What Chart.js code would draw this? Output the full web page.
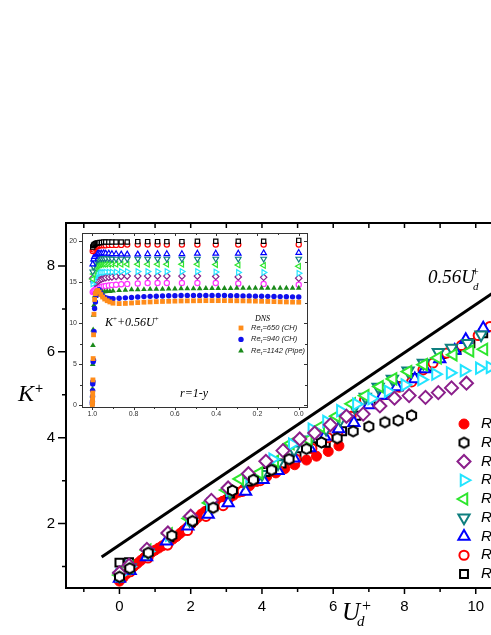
<!DOCTYPE html>
<html>
<head>
<meta charset="utf-8">
<script src="https://cdn.jsdelivr.net/npm/chart.js@4.4.1/dist/chart.umd.min.js"></script>
<style>
html, body { margin: 0; padding: 0; background: #fff; overflow: hidden; }
#wrap { position: relative; width: 491px; height: 635px; overflow: hidden; background: #fff; }
#main, #inset { position: absolute; left: 0; top: 0; }
</style>
</head>
<body>
<div id="wrap">
  <canvas id="main" width="560" height="635"></canvas>
  <canvas id="inset" width="491" height="635"></canvas>
</div>
<script>
// ---- main plot data (U_d+ , K+) ----
const redDotU = [0, 0.1, 0.2, 0.3, 0.4, 0.5, 0.6, 0.7, 0.8, 0.9, 1.0, 1.1, 1.2, 1.3, 1.4, 1.5, 1.6, 1.7, 1.8, 1.9, 2.0, 2.1, 2.2, 2.3, 2.4, 2.5, 2.6, 2.7, 2.8, 2.9, 3.0, 3.1, 3.2, 3.35, 3.5, 3.65, 3.85, 4.13, 4.39, 4.64, 4.92, 5.25, 5.53, 5.86, 6.16];
const redDotK = [0.66, 0.74, 0.83, 0.92, 1.0, 1.07, 1.14, 1.21, 1.28, 1.33, 1.38, 1.43, 1.48, 1.53, 1.58, 1.64, 1.7, 1.77, 1.84, 1.91, 1.98, 2.06, 2.14, 2.22, 2.28, 2.33, 2.38, 2.43, 2.48, 2.52, 2.56, 2.61, 2.66, 2.73, 2.81, 2.88, 2.98, 3.09, 3.18, 3.28, 3.37, 3.48, 3.57, 3.68, 3.81];
const hexU = [0, 0.29, 0.81, 1.47, 2.05, 2.63, 3.17, 3.76, 4.27, 4.76, 5.25, 5.67, 6.11, 6.56, 7.0, 7.45, 7.82, 8.2];
const hexK = [0.76, 0.96, 1.32, 1.72, 2.06, 2.37, 2.77, 3.02, 3.25, 3.5, 3.74, 3.89, 3.99, 4.15, 4.26, 4.36, 4.4, 4.52];
const diaU = [0, 0.27, 0.77, 1.36, 2.0, 2.58, 3.05, 3.62, 4.11, 4.59, 5.06, 5.48, 5.92, 6.37, 6.84, 7.31, 7.72, 8.13, 8.59, 8.95, 9.32, 9.74];
const diaK = [0.85, 1.03, 1.4, 1.78, 2.17, 2.54, 2.83, 3.16, 3.45, 3.7, 3.97, 4.11, 4.3, 4.5, 4.55, 4.74, 4.92, 4.98, 4.94, 5.05, 5.16, 5.27];
const rightU = [0, 0.28, 0.8, 1.4, 2.0, 2.55, 3.1, 3.65, 4.3, 4.85, 5.4, 5.81, 6.2, 6.65, 7.08, 7.54, 8.01, 8.48, 8.87, 9.28, 9.67, 10.1, 10.4];
const rightK = [0.8, 1.0, 1.35, 1.73, 2.1, 2.45, 2.78, 3.1, 3.5, 3.85, 4.2, 4.38, 4.63, 4.78, 4.91, 5.08, 5.23, 5.35, 5.48, 5.51, 5.56, 5.62, 5.64];
const leftU = [0, 0.28, 0.78, 1.38, 1.95, 2.52, 3.0, 3.38, 3.92, 4.36, 4.8, 5.3, 5.65, 6.09, 6.52, 6.9, 7.3, 7.68, 8.1, 8.54, 8.93, 9.37, 9.84, 10.23];
const leftK = [0.8, 1.0, 1.38, 1.76, 2.12, 2.48, 2.78, 3.04, 3.18, 3.45, 3.86, 3.95, 4.26, 4.5, 4.79, 4.98, 5.19, 5.37, 5.54, 5.7, 5.86, 5.93, 6.02, 6.06];
const downU = [0, 0.3, 0.8, 1.4, 1.97, 2.55, 3.1, 3.5, 4.0, 4.45, 4.9, 5.35, 5.8, 6.2, 6.6, 6.9, 7.26, 7.66, 8.1, 8.53, 8.95, 9.32, 9.77, 10.15];
const downK = [0.78, 0.98, 1.33, 1.72, 2.08, 2.42, 2.72, 2.98, 3.15, 3.4, 3.72, 3.95, 4.2, 4.42, 4.72, 4.95, 5.18, 5.37, 5.56, 5.74, 5.99, 6.09, 6.2, 6.4];
const upU = [0, 0.3, 0.76, 1.32, 1.92, 2.49, 3.05, 3.54, 4.03, 4.45, 4.9, 5.34, 5.76, 6.15, 6.58, 7.0, 7.38, 7.78, 8.29, 8.57, 8.99, 9.41, 9.72, 10.21];
const upK = [0.72, 0.9, 1.22, 1.59, 1.94, 2.21, 2.48, 2.75, 3.02, 3.23, 3.52, 3.76, 4.03, 4.2, 4.35, 4.76, 4.98, 5.18, 5.37, 5.6, 5.83, 6.03, 6.28, 6.55];
const ringU = [0, 0.3, 0.8, 1.35, 1.91, 2.43, 2.91, 3.45, 3.95, 4.45, 4.95, 5.4, 5.85, 6.14, 6.5, 6.88, 7.4, 7.85, 8.2, 8.52, 8.8, 9.18, 9.6, 10.07, 10.4];
const ringK = [0.7, 0.88, 1.2, 1.5, 1.84, 2.17, 2.42, 2.75, 3.0, 3.25, 3.5, 3.75, 4.0, 4.15, 4.5, 4.88, 5.0, 5.18, 5.3, 5.58, 5.74, 5.97, 6.15, 6.38, 6.59];
const boxU = [0, 0.27, 0.8, 1.4, 2.0, 2.55, 3.1, 3.6, 4.1, 4.55, 4.97, 5.39, 5.79, 6.25, 6.65, 7.05, 7.45, 7.85, 8.24, 8.65, 9.04, 9.46, 9.85, 10.21];
const boxK = [1.09, 1.1, 1.3, 1.68, 2.03, 2.38, 2.7, 2.98, 3.2, 3.4, 3.57, 3.8, 3.88, 4.15, 4.51, 4.8, 5.0, 5.2, 5.39, 5.65, 5.95, 6.05, 6.2, 6.43];
const lineU = [-0.5, 12];
const lineK = [1.22, 8.22];

const xMajor = [0, 2, 4, 6, 8, 10];
const xMinor = [-1, 1, 3, 5, 7, 9, 11];
const yMajor = [2, 4, 6, 8];
const yMinor = [1, 3, 5, 7];
const legendLabels = ['Re', 'Re', 'Re', 'Re', 'Re', 'Re', 'Re', 'Re', 'Re'];

// ---- inset data (r = 1-y , K+ + 0.56U+) ----
const insetR = [0.998, 0.994, 0.99, 0.985, 0.98, 0.975, 0.97, 0.963, 0.955, 0.945, 0.935, 0.92, 0.905, 0.885, 0.86, 0.831, 0.78, 0.732, 0.684, 0.639, 0.566, 0.491, 0.402, 0.293, 0.17, 0.0];
const inBox = [19.3, 19.5, 19.6, 19.7, 19.75, 19.8, 19.8, 19.85, 19.85, 19.9, 19.9, 19.9, 19.9, 19.9, 19.9, 19.9, 19.95, 19.95, 19.95, 19.95, 19.95, 20.0, 20.0, 20.0, 20.0, 20.1];
const inRing = [18.8, 19.0, 19.2, 19.3, 19.4, 19.4, 19.45, 19.5, 19.5, 19.5, 19.5, 19.55, 19.55, 19.55, 19.55, 19.6, 19.6, 19.6, 19.6, 19.6, 19.6, 19.6, 19.6, 19.6, 19.6, 19.6];
const inUp = [17.2, 17.8, 18.1, 18.3, 18.4, 18.5, 18.5, 18.5, 18.5, 18.55, 18.5, 18.5, 18.45, 18.45, 18.4, 18.4, 18.4, 18.45, 18.45, 18.45, 18.45, 18.5, 18.5, 18.5, 18.55, 18.6];
const inDown = [16.3, 16.9, 17.3, 17.5, 17.7, 17.8, 17.85, 17.9, 17.9, 17.9, 17.9, 17.9, 17.85, 17.85, 17.85, 17.85, 17.85, 17.85, 17.85, 17.85, 17.85, 17.85, 17.85, 17.85, 17.85, 17.85];
const inLeft = [15.4, 16.0, 16.4, 16.7, 16.9, 17.0, 17.1, 17.15, 17.2, 17.2, 17.2, 17.2, 17.2, 17.2, 17.2, 17.2, 17.2, 17.2, 17.2, 17.2, 17.2, 17.2, 17.15, 17.1, 17.05, 16.95];
const inRight = [14.8, 15.2, 15.5, 15.7, 15.9, 16.0, 16.1, 16.15, 16.2, 16.2, 16.25, 16.25, 16.25, 16.25, 16.3, 16.3, 16.3, 16.3, 16.3, 16.3, 16.3, 16.3, 16.25, 16.2, 16.2, 16.1];
const inDia = [15.5, 15.1, 14.9, 14.9, 15.0, 15.1, 15.2, 15.3, 15.4, 15.5, 15.55, 15.6, 15.65, 15.7, 15.7, 15.75, 15.75, 15.75, 15.75, 15.75, 15.75, 15.75, 15.7, 15.65, 15.6, 15.5];
const inMag = [13.8, 13.9, 14.0, 14.1, 14.2, 14.3, 14.35, 14.4, 14.45, 14.5, 14.55, 14.6, 14.65, 14.7, 14.75, 14.8, 14.85, 14.9, 14.9, 14.9, 14.9, 14.9, 14.9, 14.85, 14.8, 14.7];

const dnsR = [1.0, 0.9995, 0.999, 0.9985, 0.998, 0.997, 0.996, 0.994, 0.992, 0.989, 0.985, 0.98, 0.974, 0.967, 0.959, 0.95, 0.94, 0.928, 0.915, 0.9, 0.87, 0.84, 0.81, 0.78, 0.75, 0.72, 0.69, 0.66, 0.63, 0.6, 0.57, 0.54, 0.51, 0.48, 0.45, 0.42, 0.39, 0.36, 0.33, 0.3, 0.27, 0.24, 0.21, 0.18, 0.15, 0.12, 0.09, 0.06, 0.03, 0.0];
const dns650 = [0.1, 0.3, 0.6, 1.0, 1.5, 3.1, 5.7, 8.6, 11.1, 12.9, 13.6, 13.85, 14.0, 13.8, 13.5, 13.2, 12.95, 12.75, 12.6, 12.45, 12.4, 12.42, 12.47, 12.52, 12.57, 12.6, 12.63, 12.66, 12.68, 12.7, 12.72, 12.73, 12.74, 12.75, 12.76, 12.76, 12.76, 12.76, 12.75, 12.74, 12.73, 12.72, 12.7, 12.68, 12.66, 12.64, 12.62, 12.6, 12.58, 12.57];
const dns940 = [0.2, 0.5, 1.1, 1.8, 2.6, 2.9, 5.3, 5.5, 9.0, 11.8, 12.6, 13.4, 13.9, 14.1, 13.7, 13.35, 13.15, 13.05, 13.0, 13.0, 13.05, 13.1, 13.15, 13.2, 13.25, 13.28, 13.3, 13.33, 13.35, 13.36, 13.38, 13.4, 13.4, 13.4, 13.4, 13.4, 13.38, 13.38, 13.36, 13.35, 13.33, 13.32, 13.3, 13.3, 13.28, 13.26, 13.25, 13.24, 13.22, 13.2];
const dns1142 = [0.5, 1.1, 2.0, 2.9, 5.0, 7.3, 9.2, 11.0, 12.2, 13.3, 13.8, 13.9, 13.9, 13.85, 13.8, 13.8, 13.85, 13.9, 13.9, 13.95, 14.0, 14.05, 14.1, 14.1, 14.12, 14.15, 14.17, 14.18, 14.2, 14.2, 14.22, 14.22, 14.23, 14.24, 14.25, 14.25, 14.26, 14.26, 14.27, 14.28, 14.28, 14.28, 14.29, 14.3, 14.3, 14.3, 14.3, 14.3, 14.3, 14.3];
const dnsLabels = [['650', ' (CH)'], ['940', ' (CH)'], ['1142', ' (Pipe)']];

const inXMajor = [1.0, 0.8, 0.6, 0.4, 0.2, 0.0];
const inXMinor = [0.9, 0.7, 0.5, 0.3, 0.1];
const inYMajor = [0, 5, 10, 15, 20];
const inYMinor = [2.5, 7.5, 12.5, 17.5];

// ---- helpers ----
const pts = (xs, ys) => xs.map((v, i) => ({ x: v, y: ys[i] }));
const serif = '"Liberation Serif", "DejaVu Serif", serif';
const sans = '"Liberation Sans", Arial, sans-serif';

function hexMarker(r, color, lw) {
    const s = Math.ceil(2 * r + lw + 2);
    const c = document.createElement('canvas');
    c.width = s; c.height = s;
    const g = c.getContext('2d');
    g.beginPath();
    for (let i = 0; i < 6; i++) {
        const a = -Math.PI / 2 + i * Math.PI / 3;
        const px = s / 2 + r * Math.cos(a), py = s / 2 + r * Math.sin(a);
        if (i === 0) g.moveTo(px, py); else g.lineTo(px, py);
    }
    g.closePath();
    g.fillStyle = '#fff'; g.fill();
    g.lineWidth = lw; g.strokeStyle = color; g.stroke();
    return c;
}

function put(ctx, s, x, y, font, align, base) {
    ctx.font = font;
    ctx.textAlign = align || 'left';
    ctx.textBaseline = base || 'alphabetic';
    ctx.fillText(s, x, y);
    ctx.textAlign = 'left';
    return ctx.measureText(s).width;
}

function marker(ctx, m, x, y) {
    ctx.save();
    ctx.fillStyle = m.fill;
    ctx.strokeStyle = m.color;
    ctx.lineWidth = m.lw;
    Chart.helpers.drawPoint(ctx, { pointStyle: m.style, rotation: m.rot, radius: m.r, borderWidth: m.lw }, x, y);
    ctx.restore();
}

// ---- marker styles for main plot ----
const hexImg = hexMarker(5.2, '#000', 2);
const mainMarks = [
    { style: 'circle', rot: 0, r: 5, color: '#ff0000', fill: '#ff0000', lw: 1 },
    { style: hexImg, rot: 0, r: 6, color: '#000', fill: '#fff', lw: 2 },
    { style: 'rectRot', rot: 0, r: 6.5, color: '#8b1f8b', fill: '#fff', lw: 2 },
    { style: 'triangle', rot: 90, r: 6.5, color: '#22e4ff', fill: '#fff', lw: 2 },
    { style: 'triangle', rot: -90, r: 6.5, color: '#2ee62e', fill: '#fff', lw: 2 },
    { style: 'triangle', rot: 180, r: 6.5, color: '#0f7f7f', fill: '#fff', lw: 2 },
    { style: 'triangle', rot: 0, r: 6.5, color: '#0000ff', fill: '#fff', lw: 2 },
    { style: 'circle', rot: 0, r: 4.6, color: '#ff0000', fill: '#fff', lw: 2 },
    { style: 'rect', rot: 0, r: 5.6, color: '#000', fill: '#fff', lw: 2 }
];
const mainSeries = [
    [redDotU, redDotK, 10], [hexU, hexK, 1], [diaU, diaK, 3], [rightU, rightK, 4], [leftU, leftK, 5],
    [downU, downK, 6], [upU, upK, 7], [ringU, ringK, 8], [boxU, boxK, 9]
];

function markSet(m, data, order) {
    return {
        data: data, order: order,
        pointStyle: m.style, rotation: m.rot, pointRadius: m.r,
        borderColor: m.color, backgroundColor: m.fill, borderWidth: m.lw
    };
}

const mainSets = mainSeries.map((s, i) => markSet(mainMarks[i], pts(s[0], s[1]), s[2]));
mainSets.push({
    data: pts(lineU, lineK), order: 20, showLine: true,
    borderColor: '#000', borderWidth: 3, pointRadius: 0
});

const mainDeco = {
    id: 'mainDeco',
    afterDraw(chart) {
        const { ctx, chartArea: a, scales: { x, y } } = chart;
        ctx.save();
        ctx.strokeStyle = '#000';
        ctx.fillStyle = '#000';
        ctx.lineWidth = 2;
        ctx.strokeRect(a.left, a.top, a.right - a.left, a.bottom - a.top);

        ctx.lineWidth = 1.5;
        ctx.beginPath();
        xMajor.forEach(v => {
            const p = x.getPixelForValue(v);
            ctx.moveTo(p, a.bottom); ctx.lineTo(p, a.bottom + 6);
            ctx.moveTo(p, a.top); ctx.lineTo(p, a.top + 5);
        });
        xMinor.forEach(v => {
            const p = x.getPixelForValue(v);
            ctx.moveTo(p, a.bottom); ctx.lineTo(p, a.bottom + 4);
            ctx.moveTo(p, a.top); ctx.lineTo(p, a.top + 5);
        });
        yMajor.forEach(v => {
            const p = y.getPixelForValue(v);
            ctx.moveTo(a.left - 8, p); ctx.lineTo(a.left, p);
        });
        yMinor.forEach(v => {
            const p = y.getPixelForValue(v);
            ctx.moveTo(a.left - 4, p); ctx.lineTo(a.left, p);
        });
        ctx.stroke();

        xMajor.forEach(v => put(ctx, String(v), x.getPixelForValue(v), 607, '15px ' + sans, 'center', 'middle'));
        yMajor.forEach(v => put(ctx, String(v), 55, y.getPixelForValue(v), '15px ' + sans, 'right', 'middle'));

        // axis titles
        put(ctx, 'K', 18, 401, 'italic 24px ' + serif);
        put(ctx, '+', 35, 389, '14px ' + sans, 'left', 'middle');
        put(ctx, 'U', 342, 620, 'italic 25px ' + serif);
        put(ctx, '+', 362, 607, '16px ' + serif, 'left', 'middle');
        put(ctx, 'd', 357, 626, 'italic 15px ' + serif);

        // line label
        put(ctx, '0.56U', 428, 283, 'italic 19px ' + serif);
        put(ctx, '+', 472, 273, '12px ' + serif, 'left', 'middle');
        put(ctx, 'd', 473, 290, 'italic 11px ' + serif);

        // legend
        mainMarks.forEach((m, i) => {
            const ly = 424 + i * 18.75;
            marker(ctx, m, 464, ly);
            ctx.fillStyle = '#000';
            put(ctx, legendLabels[i], 481, ly, 'italic 15px ' + sans, 'left', 'middle');
        });
        ctx.restore();
    }
};

Chart.defaults.font.family = 'Liberation Sans';

new Chart(document.getElementById('main'), {
    type: 'scatter',
    data: { datasets: mainSets },
    options: {
        responsive: false, animation: false, devicePixelRatio: 1,
        layout: { padding: { left: 66, top: 223, right: 13, bottom: 47 } },
        plugins: { legend: { display: false }, tooltip: { enabled: false } },
        scales: {
            x: { type: 'linear', min: -1.5, max: 12, display: false },
            y: { type: 'linear', min: 0.5, max: 9, display: false }
        }
    },
    plugins: [mainDeco]
});

// ---- inset ----
const insetMarks = [
    { style: 'rect', rot: 0, r: 3.0, color: '#000', fill: '#fff', lw: 1.2 },
    { style: 'circle', rot: 0, r: 2.6, color: '#ff0000', fill: '#fff', lw: 1.2 },
    { style: 'triangle', rot: 0, r: 3.2, color: '#0000ff', fill: '#fff', lw: 1.2 },
    { style: 'triangle', rot: 180, r: 3.2, color: '#0f7f7f', fill: '#fff', lw: 1.2 },
    { style: 'triangle', rot: -90, r: 3.2, color: '#2ee62e', fill: '#fff', lw: 1.2 },
    { style: 'triangle', rot: 90, r: 3.2, color: '#22e4ff', fill: '#fff', lw: 1.2 },
    { style: 'rectRot', rot: 0, r: 3.2, color: '#8b1f8b', fill: '#fff', lw: 1.2 },
    { style: 'circle', rot: 0, r: 2.6, color: '#ff33ff', fill: '#fff', lw: 1.2 }
];
const insetVals = [inBox, inRing, inUp, inDown, inLeft, inRight, inDia, inMag];
const dnsMarks = [
    { style: 'rect', rot: 0, r: 3.4, color: '#ff8c1a', fill: '#ff8c1a', lw: 0 },
    { style: 'circle', rot: 0, r: 2.7, color: '#1010ee', fill: '#1010ee', lw: 0 },
    { style: 'triangle', rot: 0, r: 3.3, color: '#1a8a1a', fill: '#1a8a1a', lw: 0 }
];
const dnsVals = [dns650, dns940, dns1142];

const insetSets = insetVals.map((v, i) => markSet(insetMarks[i], pts(insetR, v), 10 + i));
dnsVals.forEach((v, i) => insetSets.push(markSet(dnsMarks[i], pts(dnsR, v), i)));

const insetDeco = {
    id: 'insetDeco',
    beforeDraw(chart) {
        const { ctx, chartArea: a } = chart;
        ctx.save();
        ctx.fillStyle = '#fff';
        ctx.fillRect(a.left, a.top, a.right - a.left, a.bottom - a.top);
        ctx.restore();
    },
    afterDraw(chart) {
        const { ctx, chartArea: a, scales: { x, y } } = chart;
        ctx.save();
        ctx.strokeStyle = '#333';
        ctx.fillStyle = '#333';
        ctx.lineWidth = 1;
        ctx.strokeRect(a.left + 0.5, a.top + 0.5, a.right - a.left, a.bottom - a.top);
        ctx.beginPath();
        inXMajor.forEach(v => {
            const p = Math.round(x.getPixelForValue(v)) + 0.5;
            ctx.moveTo(p, a.bottom); ctx.lineTo(p, a.bottom + 3);
            ctx.moveTo(p, a.top); ctx.lineTo(p, a.top + 3);
        });
        inXMinor.forEach(v => {
            const p = Math.round(x.getPixelForValue(v)) + 0.5;
            ctx.moveTo(p, a.bottom); ctx.lineTo(p, a.bottom + 2);
            ctx.moveTo(p, a.top); ctx.lineTo(p, a.top + 2);
        });
        inYMajor.forEach(v => {
            const p = Math.round(y.getPixelForValue(v)) + 0.5;
            ctx.moveTo(a.left - 3, p); ctx.lineTo(a.left, p);
            ctx.moveTo(a.right, p); ctx.lineTo(a.right - 3, p);
        });
        inYMinor.forEach(v => {
            const p = Math.round(y.getPixelForValue(v)) + 0.5;
            ctx.moveTo(a.left - 2, p); ctx.lineTo(a.left, p);
            ctx.moveTo(a.right, p); ctx.lineTo(a.right - 2, p);
        });
        ctx.stroke();

        inXMajor.forEach(v => put(ctx, v.toFixed(1), x.getPixelForValue(v), a.bottom + 7, '7px ' + sans, 'center', 'middle'));
        inYMajor.forEach(v => put(ctx, String(v), a.left - 5, y.getPixelForValue(v), '7px ' + sans, 'right', 'middle'));

        ctx.fillStyle = '#000';
        let cx = 105;
        cx += put(ctx, 'K', cx, 326, 'italic 12px ' + serif);
        cx += put(ctx, '+', cx, 319, '7px ' + serif, 'left', 'middle');
        cx += put(ctx, '+0.56U', cx, 326, 'italic 12px ' + serif);
        put(ctx, '+', cx, 319, '7px ' + serif, 'left', 'middle');

        put(ctx, 'DNS', 255, 321, 'italic 8px ' + serif);
        dnsMarks.forEach((m, i) => {
            const ly = 328 + i * 11.4;
            marker(ctx, m, 241, ly);
            ctx.fillStyle = '#222';
            let lx = 251;
            lx += put(ctx, 'Re', lx, ly, 'italic 7.5px ' + sans, 'left', 'middle');
            lx += put(ctx, 'τ', lx, ly + 2.5, 'italic 5px ' + sans, 'left', 'middle');
            lx += put(ctx, '=' + dnsLabels[i][0], lx, ly, 'italic 7.5px ' + sans, 'left', 'middle');
            put(ctx, dnsLabels[i][1], lx, ly, 'italic 7.5px ' + sans, 'left', 'middle');
        });

        ctx.fillStyle = '#000';
        put(ctx, 'r=1-y', 180, 397, 'italic 12px ' + serif);
        ctx.restore();
    }
};

new Chart(document.getElementById('inset'), {
    type: 'scatter',
    data: { datasets: insetSets },
    options: {
        responsive: false, animation: false, devicePixelRatio: 1,
        layout: { padding: { left: 82, top: 233, right: 184, bottom: 228 } },
        plugins: { legend: { display: false }, tooltip: { enabled: false } },
        scales: {
            x: { type: 'linear', min: -0.04, max: 1.05, reverse: true, display: false },
            y: { type: 'linear', min: -0.2, max: 21, display: false }
        }
    },
    plugins: [insetDeco]
});
</script>
</body>
</html>
